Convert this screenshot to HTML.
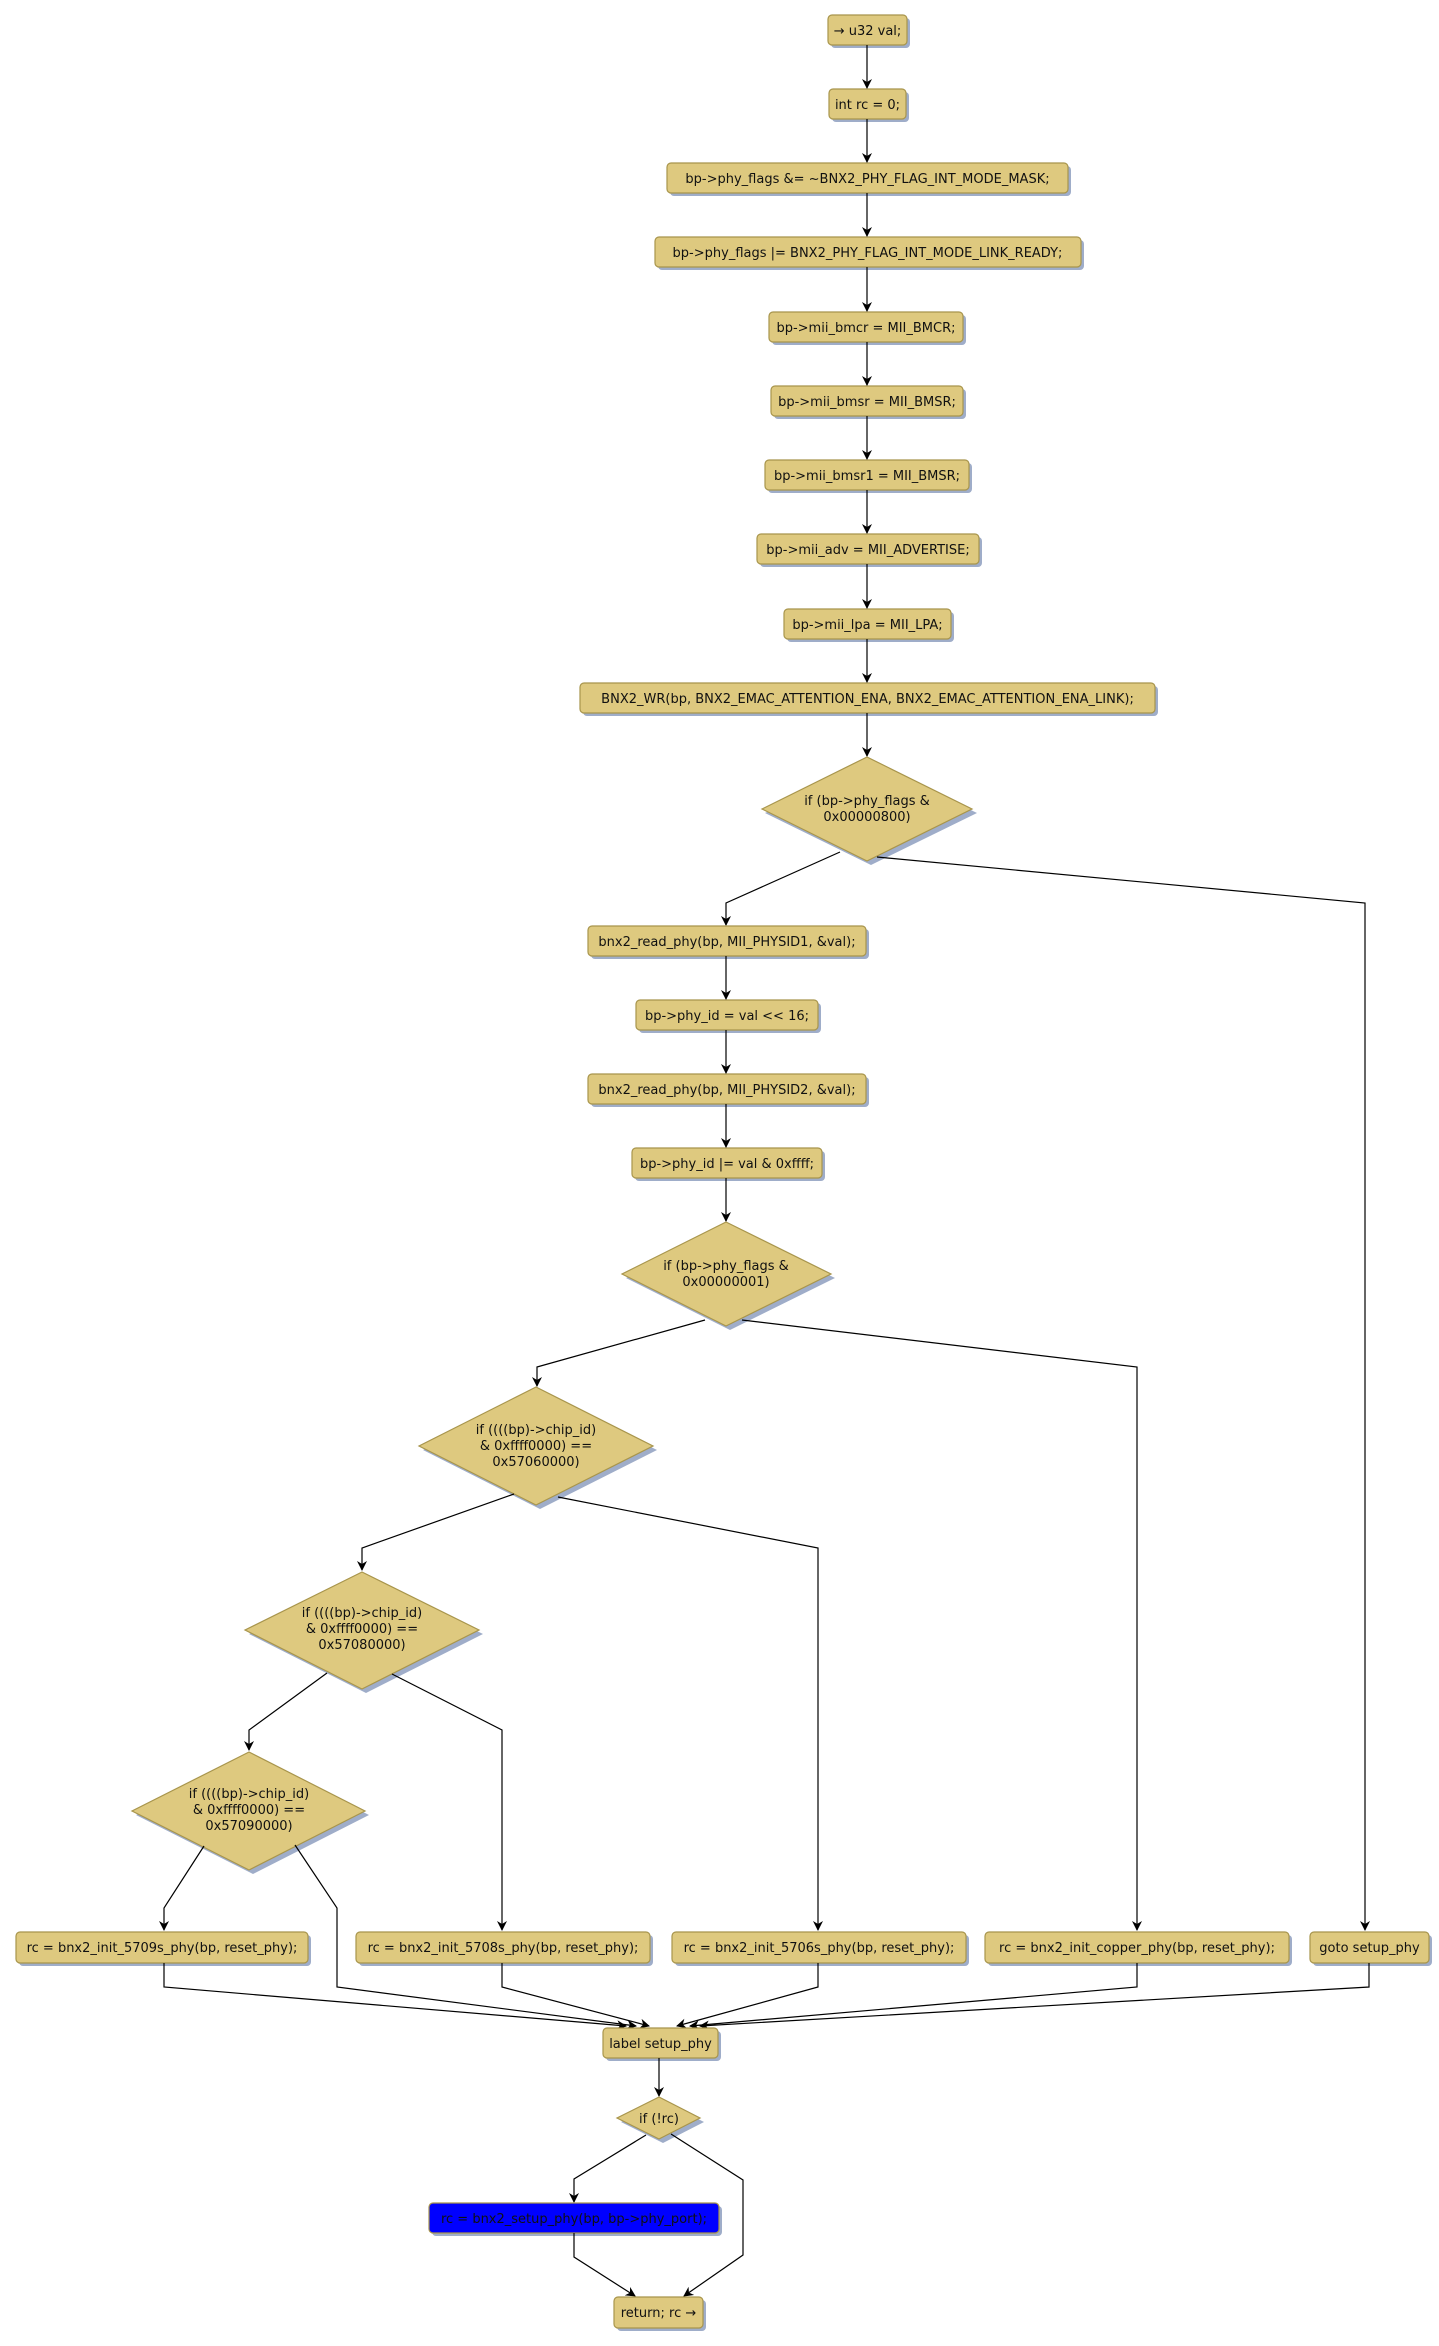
<!DOCTYPE html>
<html><head><meta charset="utf-8"><style>
html,body{margin:0;padding:0;background:#fff;}
svg{display:block;}
text{font-family:"DejaVu Sans","Liberation Sans",sans-serif;font-size:13px;fill:#111;}
.b{fill:#dec97f;stroke:#a8954c;stroke-width:1.2;}
.s{fill:#9fadc9;}
.e{fill:none;stroke:#000;stroke-width:1.2;}
</style></head><body>
<svg width="1439" height="2346" viewBox="0 0 1439 2346" xmlns="http://www.w3.org/2000/svg">
<defs>
<marker id="a" markerWidth="10" markerHeight="12" refX="9" refY="5" orient="auto" markerUnits="userSpaceOnUse">
<path d="M0,0 L10,5 L0,10 L3,5 Z" fill="#000"/></marker>
</defs>

<!-- top column boxes -->
<g>
<rect class="s" x="831" y="18" width="79" height="30" rx="4"/><rect class="b" x="828" y="15" width="79" height="30" rx="4"/><text x="867.5" y="35" text-anchor="middle">→ u32 val;</text>
<rect class="s" x="832" y="92" width="77" height="30" rx="4"/><rect class="b" x="829" y="89" width="77" height="30" rx="4"/><text x="867.5" y="109" text-anchor="middle">int rc = 0;</text>
<rect class="s" x="670" y="166" width="401" height="30" rx="4"/><rect class="b" x="667" y="163" width="401" height="30" rx="4"/><text x="867.5" y="183" text-anchor="middle">bp-&gt;phy_flags &amp;= ~BNX2_PHY_FLAG_INT_MODE_MASK;</text>
<rect class="s" x="658" y="240" width="426" height="30" rx="4"/><rect class="b" x="655" y="237" width="426" height="30" rx="4"/><text x="867.5" y="257" text-anchor="middle">bp-&gt;phy_flags |= BNX2_PHY_FLAG_INT_MODE_LINK_READY;</text>
<rect class="s" x="772" y="315" width="194" height="30" rx="4"/><rect class="b" x="769" y="312" width="194" height="30" rx="4"/><text x="866" y="332" text-anchor="middle">bp-&gt;mii_bmcr = MII_BMCR;</text>
<rect class="s" x="774" y="389" width="192" height="30" rx="4"/><rect class="b" x="771" y="386" width="192" height="30" rx="4"/><text x="867" y="406" text-anchor="middle">bp-&gt;mii_bmsr = MII_BMSR;</text>
<rect class="s" x="768" y="463" width="204" height="30" rx="4"/><rect class="b" x="765" y="460" width="204" height="30" rx="4"/><text x="867" y="480" text-anchor="middle">bp-&gt;mii_bmsr1 = MII_BMSR;</text>
<rect class="s" x="760" y="537" width="222" height="30" rx="4"/><rect class="b" x="757" y="534" width="222" height="30" rx="4"/><text x="868" y="554" text-anchor="middle">bp-&gt;mii_adv = MII_ADVERTISE;</text>
<rect class="s" x="787" y="612" width="167" height="30" rx="4"/><rect class="b" x="784" y="609" width="167" height="30" rx="4"/><text x="867.5" y="629" text-anchor="middle">bp-&gt;mii_lpa = MII_LPA;</text>
<rect class="s" x="583" y="686" width="575" height="30" rx="4"/><rect class="b" x="580" y="683" width="575" height="30" rx="4"/><text x="867.5" y="703" text-anchor="middle">BNX2_WR(bp, BNX2_EMAC_ATTENTION_ENA, BNX2_EMAC_ATTENTION_ENA_LINK);</text>
</g>
<g>
<line class="e" x1="867" y1="45" x2="867" y2="88" marker-end="url(#a)"/>
<line class="e" x1="867" y1="119" x2="867" y2="162" marker-end="url(#a)"/>
<line class="e" x1="867" y1="193" x2="867" y2="236" marker-end="url(#a)"/>
<line class="e" x1="867" y1="267" x2="867" y2="311" marker-end="url(#a)"/>
<line class="e" x1="867" y1="342" x2="867" y2="385" marker-end="url(#a)"/>
<line class="e" x1="867" y1="416" x2="867" y2="459" marker-end="url(#a)"/>
<line class="e" x1="867" y1="490" x2="867" y2="533" marker-end="url(#a)"/>
<line class="e" x1="867" y1="564" x2="867" y2="608" marker-end="url(#a)"/>
<line class="e" x1="867" y1="639" x2="867" y2="682" marker-end="url(#a)"/>
<line class="e" x1="867" y1="713" x2="867" y2="756" marker-end="url(#a)"/>
</g>

<!-- D1 -->
<polygon class="s" points="871,761 977,813 871,865 765,813"/>
<polygon class="b" points="867,757 972,809 867,861 762,809"/>
<text x="867" y="805" text-anchor="middle">if (bp-&gt;phy_flags &amp;</text>
<text x="867" y="821" text-anchor="middle">0x00000800)</text>
<polyline class="e" points="840,852 726,903 726,925" marker-end="url(#a)"/>
<polyline class="e" points="877,857 1365,903 1365,1930" marker-end="url(#a)"/>

<!-- second column -->
<rect class="s" x="591" y="929" width="278" height="30" rx="4"/><rect class="b" x="588" y="926" width="278" height="30" rx="4"/><text x="727" y="946" text-anchor="middle">bnx2_read_phy(bp, MII_PHYSID1, &amp;val);</text>
<rect class="s" x="639" y="1003" width="182" height="30" rx="4"/><rect class="b" x="636" y="1000" width="182" height="30" rx="4"/><text x="727" y="1020" text-anchor="middle">bp-&gt;phy_id = val &lt;&lt; 16;</text>
<rect class="s" x="591" y="1077" width="278" height="30" rx="4"/><rect class="b" x="588" y="1074" width="278" height="30" rx="4"/><text x="727" y="1094" text-anchor="middle">bnx2_read_phy(bp, MII_PHYSID2, &amp;val);</text>
<rect class="s" x="635" y="1151" width="190" height="30" rx="4"/><rect class="b" x="632" y="1148" width="190" height="30" rx="4"/><text x="727" y="1168" text-anchor="middle">bp-&gt;phy_id |= val &amp; 0xffff;</text>
<line class="e" x1="726" y1="956" x2="726" y2="999" marker-end="url(#a)"/>
<line class="e" x1="726" y1="1030" x2="726" y2="1073" marker-end="url(#a)"/>
<line class="e" x1="726" y1="1104" x2="726" y2="1147" marker-end="url(#a)"/>
<line class="e" x1="726" y1="1178" x2="726" y2="1221" marker-end="url(#a)"/>

<!-- D2 -->
<polygon class="s" points="730,1226 835,1278 730,1330 626,1278"/>
<polygon class="b" points="726,1222 831,1274 726,1326 622,1274"/>
<text x="726" y="1270" text-anchor="middle">if (bp-&gt;phy_flags &amp;</text>
<text x="726" y="1286" text-anchor="middle">0x00000001)</text>
<polyline class="e" points="705,1320 537,1367 537,1386" marker-end="url(#a)"/>
<polyline class="e" points="742,1320 1137,1367 1137,1930" marker-end="url(#a)"/>

<!-- D3 -->
<polygon class="s" points="540,1391 657,1450 540,1509 423,1450"/>
<polygon class="b" points="536,1387 653,1446 536,1505 419,1446"/>
<text x="536" y="1434" text-anchor="middle">if ((((bp)-&gt;chip_id)</text>
<text x="536" y="1450" text-anchor="middle">&amp; 0xffff0000) ==</text>
<text x="536" y="1466" text-anchor="middle">0x57060000)</text>
<polyline class="e" points="514,1494 362,1548 362,1570" marker-end="url(#a)"/>
<polyline class="e" points="558,1497 818,1548 818,1930" marker-end="url(#a)"/>

<!-- D4 -->
<polygon class="s" points="366,1576 483,1634 366,1693 249,1634"/>
<polygon class="b" points="362,1572 479,1630 362,1689 245,1630"/>
<text x="362" y="1617" text-anchor="middle">if ((((bp)-&gt;chip_id)</text>
<text x="362" y="1633" text-anchor="middle">&amp; 0xffff0000) ==</text>
<text x="362" y="1649" text-anchor="middle">0x57080000)</text>
<polyline class="e" points="327,1673 249,1730 249,1750" marker-end="url(#a)"/>
<polyline class="e" points="392,1674 502,1730 502,1930" marker-end="url(#a)"/>

<!-- D5 -->
<polygon class="s" points="253,1756 369,1815 253,1874 136,1815"/>
<polygon class="b" points="249,1752 365,1811 249,1870 132,1811"/>
<text x="249" y="1798" text-anchor="middle">if ((((bp)-&gt;chip_id)</text>
<text x="249" y="1814" text-anchor="middle">&amp; 0xffff0000) ==</text>
<text x="249" y="1830" text-anchor="middle">0x57090000)</text>
<polyline class="e" points="204,1846 164,1908 164,1930" marker-end="url(#a)"/>
<polyline class="e" points="295,1845 337,1908 337,1987 636,2026" marker-end="url(#a)"/>

<!-- bottom row -->
<rect class="s" x="19" y="1935" width="292" height="31" rx="4"/><rect class="b" x="16" y="1932" width="292" height="31" rx="4"/><text x="162" y="1952" text-anchor="middle">rc = bnx2_init_5709s_phy(bp, reset_phy);</text>
<rect class="s" x="359" y="1935" width="294" height="31" rx="4"/><rect class="b" x="356" y="1932" width="294" height="31" rx="4"/><text x="503" y="1952" text-anchor="middle">rc = bnx2_init_5708s_phy(bp, reset_phy);</text>
<rect class="s" x="675" y="1935" width="294" height="31" rx="4"/><rect class="b" x="672" y="1932" width="294" height="31" rx="4"/><text x="819" y="1952" text-anchor="middle">rc = bnx2_init_5706s_phy(bp, reset_phy);</text>
<rect class="s" x="988" y="1935" width="304" height="31" rx="4"/><rect class="b" x="985" y="1932" width="304" height="31" rx="4"/><text x="1137" y="1952" text-anchor="middle">rc = bnx2_init_copper_phy(bp, reset_phy);</text>
<rect class="s" x="1313" y="1935" width="119" height="31" rx="4"/><rect class="b" x="1310" y="1932" width="119" height="31" rx="4"/><text x="1369.5" y="1952" text-anchor="middle">goto setup_phy</text>

<polyline class="e" points="164,1963 164,1987 626,2026" marker-end="url(#a)"/>
<polyline class="e" points="502,1963 502,1987 649,2026" marker-end="url(#a)"/>
<polyline class="e" points="818,1963 818,1987 677,2026" marker-end="url(#a)"/>
<polyline class="e" points="1137,1963 1137,1987 690,2026" marker-end="url(#a)"/>
<polyline class="e" points="1369,1963 1369,1987 700,2026" marker-end="url(#a)"/>

<!-- label setup_phy -->
<rect class="s" x="606" y="2031" width="115" height="30" rx="4"/><rect class="b" x="603" y="2028" width="115" height="30" rx="4"/><text x="660.5" y="2048" text-anchor="middle">label setup_phy</text>
<line class="e" x1="659" y1="2058" x2="659" y2="2096" marker-end="url(#a)"/>

<!-- if (!rc) -->
<polygon class="s" points="663,2101 704,2122 663,2143 621,2122"/>
<polygon class="b" points="659,2097 700,2118 659,2139 617,2118"/>
<text x="659" y="2123" text-anchor="middle">if (!rc)</text>
<polyline class="e" points="646,2135 574,2179 574,2202" marker-end="url(#a)"/>
<polyline class="e" points="671,2134 743,2180 743,2255 684,2296" marker-end="url(#a)"/>

<rect class="s" x="432" y="2206" width="290" height="30" rx="4"/><rect x="429" y="2203" width="290" height="30" rx="4" fill="#0000ff" stroke="#a8954c" stroke-width="1.2"/><text x="574" y="2223" text-anchor="middle">rc = bnx2_setup_phy(bp, bp-&gt;phy_port);</text>
<polyline class="e" points="574,2233 574,2257 635,2296" marker-end="url(#a)"/>

<rect class="s" x="617" y="2300" width="89" height="31" rx="4"/><rect class="b" x="614" y="2297" width="89" height="31" rx="4"/><text x="658.5" y="2317" text-anchor="middle">return; rc →</text>
</svg>
</body></html>
